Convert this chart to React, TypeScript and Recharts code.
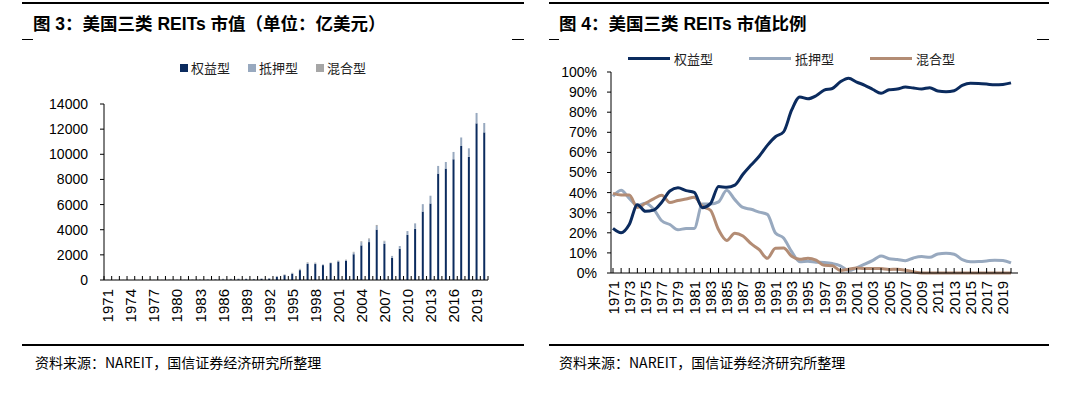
import { BarChart, Bar, LineChart, Line, XAxis, YAxis } from 'recharts';

const years = [
  1971, 1972, 1973, 1974, 1975, 1976, 1977, 1978, 1979, 1980,
  1981, 1982, 1983, 1984, 1985, 1986, 1987, 1988, 1989, 1990,
  1991, 1992, 1993, 1994, 1995, 1996, 1997, 1998, 1999, 2000,
  2001, 2002, 2003, 2004, 2005, 2006, 2007, 2008, 2009, 2010,
  2011, 2012, 2013, 2014, 2015, 2016, 2017, 2018, 2019, 2020,
];

// 市值, 亿美元
const equityCap = [
  3, 4, 3, 2, 3, 4, 5, 6, 7, 9,
  10, 11, 15, 22, 33, 43, 48, 61, 68, 56,
  88, 112, 261, 388, 499, 783, 1278, 1269, 1182, 1344,
  1471, 1513, 2048, 2753, 3015, 4007, 2887, 1762, 2484, 3589,
  4075, 5444, 6083, 8464, 8865, 9602, 10660, 9803, 12459, 11742,
];
const mortgageCap = [
  6, 8, 5, 2, 3, 4, 4, 3, 4, 5,
  5, 11, 15, 18, 32, 36, 32, 36, 35, 25,
  26, 28, 34, 25, 34, 48, 74, 65, 44, 16,
  40, 71, 142, 260, 234, 292, 191, 143, 221, 304,
  430, 590, 621, 610, 524, 585, 678, 673, 829, 747,
];
const hybridCap = [
  6, 7, 5, 2, 3, 5, 6, 5, 6, 8,
  9, 11, 13, 11, 12, 20, 18, 17, 14, 6,
  16, 20, 27, 30, 42, 57, 53, 49, 16, 27,
  38, 35, 52, 66, 58, 81, 43, 11, 0, 0,
  0, 0, 0, 0, 0, 0, 0, 0, 0, 0,
];

// 市值比例, %
const equityShare = [
  22.2, 20.0, 24.1, 34.0, 30.7, 31.3, 35.2, 40.8, 42.4, 41.0,
  40.1, 32.5, 34.5, 43.0, 42.6, 43.7, 49.1, 53.7, 58.1, 63.5,
  67.8, 70.2, 81.1, 87.6, 86.7, 88.2, 91.0, 91.8, 95.1, 96.9,
  95.0, 93.4, 91.3, 89.4, 91.2, 91.5, 92.5, 92.0, 91.6, 92.2,
  90.5, 90.2, 90.7, 93.3, 94.4, 94.3, 94.0, 93.6, 93.8, 94.6,
];
const mortgageShare = [
  38.2, 41.2, 37.1, 33.6, 34.7, 31.8, 26.0, 24.1, 21.5, 22.2,
  22.2, 34.3, 34.3, 35.4, 41.2, 36.5, 32.6, 31.7, 30.3, 29.2,
  19.9, 17.4, 10.6, 5.6, 5.9, 5.4, 5.2, 4.7, 3.6, 1.2,
  2.6, 4.4, 6.3, 8.4, 7.1, 6.7, 6.1, 7.5, 8.2, 7.8,
  9.5, 9.8, 9.3, 6.7, 5.6, 5.7, 6.0, 6.4, 6.2, 5.0,
];
const hybridShare = [
  39.6, 38.8, 38.8, 32.6, 34.7, 36.9, 38.7, 35.1, 36.1, 36.8,
  37.7, 33.2, 31.2, 21.5, 16.2, 19.8, 18.4, 14.6, 11.6, 7.3,
  12.3, 12.4, 8.3, 6.8, 7.4, 6.4, 3.8, 3.6, 1.3, 1.9,
  2.5, 2.2, 2.3, 2.2, 1.8, 1.9, 1.4, 0.6, 0, 0,
  0, 0, 0, 0, 0, 0, 0, 0, 0, 0,
];

const seriesNames = ['权益型', '抵押型', '混合型'];
const barColors = ['#0b2b5e', '#98a9bf', '#a6a6a6'];
const lineColors = ['#0b2b5e', '#98a9bf', '#b38c74'];
const capTicks = [0, 2000, 4000, 6000, 8000, 10000, 12000, 14000];
const shareTicks = [0, 10, 20, 30, 40, 50, 60, 70, 80, 90, 100];

const capData = years.map((y, i) => ({
  year: y,
  equity: equityCap[i],
  mortgage: mortgageCap[i],
  hybrid: hybridCap[i],
}));
const shareData = years.map((y, i) => ({
  year: y,
  equity: equityShare[i],
  mortgage: mortgageShare[i],
  hybrid: hybridShare[i],
}));

const numFont = '"Liberation Sans", Arial, "Noto Sans CJK SC", sans-serif';
const cjkFont = '"Noto Sans CJK SC", sans-serif';

const BarYearTick = (props: any) => {
  const { x, y, payload, index } = props;
  const half = payload?.offset || 3.84;
  const last = index === years.length - 1;
  const ty = y + 9;
  return (
    <g>
      <line x1={x - half} x2={x - half} y1={y} y2={y - 4} stroke="#000" />
      {last && <line x1={x + half} x2={x + half} y1={y} y2={y - 4} stroke="#000" />}
      {index % 3 === 0 && (
        <text
          x={x}
          y={ty}
          transform={`rotate(-90 ${x} ${ty})`}
          textAnchor="end"
          dominantBaseline="central"
          fontSize={15}
          fontFamily={numFont}
          fill="#000"
        >
          {payload.value}
        </text>
      )}
    </g>
  );
};

const LineYearTick = (props: any) => {
  const { x, y, payload, index } = props;
  const ty = y + 8;
  return (
    <g>
      <line x1={x} x2={x} y1={y} y2={y - 5} stroke="#000" />
      {index % 2 === 0 && (
        <text
          x={x}
          y={ty}
          transform={`rotate(-90 ${x} ${ty})`}
          textAnchor="end"
          dominantBaseline="central"
          fontSize={15}
          fontFamily={numFont}
          fill="#000"
        >
          {payload.value}
        </text>
      )}
    </g>
  );
};

const Rule = ({ left, top, width, h = 1.5 }: any) => (
  <div style={{ position: 'absolute', left, top, width, height: h, background: '#000' }} />
);

const Title = ({ left, text }: any) => (
  <div
    style={{
      position: 'absolute',
      left,
      top: 10,
      fontSize: 17.5,
      fontWeight: 'bold',
      fontFamily: numFont,
      whiteSpace: 'nowrap',
      color: '#000',
    }}
  >
    {text}
  </div>
);

const Source = ({ left }: any) => (
  <div
    style={{
      position: 'absolute',
      left,
      top: 352,
      fontSize: 14,
      fontFamily: cjkFont,
      whiteSpace: 'nowrap',
      color: '#000',
    }}
  >
    资料来源：NAREIT，国信证券经济研究所整理
  </div>
);

export default function App() {
  return (
    <div style={{ position: 'absolute', left: 0, top: 0, width: 1092, height: 395, background: '#fff', overflow: 'hidden' }}>
      {/* 左图 */}
      <Rule left={22} top={2} width={502} />
      <Title left={33} text="图 3：美国三类 REITs 市值（单位：亿美元）" />
      <Rule left={22} top={39} width={11} h={1} />
      <Rule left={512} top={39} width={12} h={1} />
      <div
        style={{
          position: 'absolute',
          left: 180,
          top: 58,
          display: 'flex',
          gap: 18,
          fontSize: 13,
          fontFamily: cjkFont,
          color: '#222',
          alignItems: 'center',
        }}
      >
        {seriesNames.map((n, i) => (
          <div key={n} style={{ display: 'flex', alignItems: 'center', gap: 3 }}>
            <span style={{ width: 8, height: 8, background: barColors[i], display: 'inline-block' }} />
            <span>{n}</span>
          </div>
        ))}
      </div>
      <div style={{ position: 'absolute', left: 0, top: 0 }}>
        <BarChart
          width={546}
          height={340}
          data={capData}
          margin={{ top: 104, right: 58, left: 0, bottom: 10 }}
          barCategoryGap="38%"
        >
          <YAxis
            width={104}
            domain={[0, 14000]}
            ticks={capTicks}
            interval={0}
            axisLine={{ stroke: '#000' }}
            tickLine={{ stroke: '#000' }}
            tickSize={4}
            tickMargin={12}
            tick={{ fontSize: 14, fill: '#000', fontFamily: numFont }}
          />
          <XAxis
            dataKey="year"
            height={50}
            interval={0}
            axisLine={{ stroke: '#000' }}
            tickLine={false}
            tickSize={0}
            tickMargin={0}
            tick={<BarYearTick />}
          />
          <Bar dataKey="equity" stackId="a" fill={barColors[0]} isAnimationActive={false} />
          <Bar dataKey="mortgage" stackId="a" fill={barColors[1]} isAnimationActive={false} />
          <Bar dataKey="hybrid" stackId="a" fill={barColors[2]} isAnimationActive={false} />
        </BarChart>
      </div>
      <Rule left={22} top={344} width={502} />
      <Source left={35} />

      {/* 右图 */}
      <Rule left={549} top={2} width={500} />
      <Title left={559} text="图 4：美国三类 REITs 市值比例" />
      <Rule left={549} top={39} width={10} h={1} />
      <Rule left={1037} top={39} width={12} h={1} />
      <div
        style={{
          position: 'absolute',
          left: 628,
          top: 49,
          display: 'flex',
          gap: 36,
          fontSize: 13,
          fontFamily: cjkFont,
          color: '#222',
          alignItems: 'center',
        }}
      >
        {seriesNames.map((n, i) => (
          <div key={n} style={{ display: 'flex', alignItems: 'center', gap: 4 }}>
            <span style={{ width: 42, height: 3, background: lineColors[i], display: 'inline-block' }} />
            <span>{n}</span>
          </div>
        ))}
      </div>
      <div style={{ position: 'absolute', left: 546, top: 0 }}>
        <LineChart
          width={546}
          height={340}
          data={shareData}
          margin={{ top: 72, right: 74, left: 0, bottom: 17 }}
        >
          <YAxis
            width={65}
            domain={[0, 100]}
            ticks={shareTicks}
            interval={0}
            tickFormatter={(v) => `${v}%`}
            axisLine={{ stroke: '#000' }}
            tickLine={{ stroke: '#000' }}
            tickSize={4}
            tickMargin={10}
            tick={{ fontSize: 14, fill: '#000', fontFamily: numFont }}
          />
          <XAxis
            dataKey="year"
            height={50}
            interval={0}
            padding={{ left: 2, right: 7 }}
            axisLine={{ stroke: '#000' }}
            tickLine={false}
            tickSize={0}
            tickMargin={0}
            tick={<LineYearTick />}
          />
          <Line type="monotone" dataKey="mortgage" stroke={lineColors[1]} strokeWidth={3} dot={false} isAnimationActive={false} />
          <Line type="monotone" dataKey="hybrid" stroke={lineColors[2]} strokeWidth={3} dot={false} isAnimationActive={false} />
          <Line type="monotone" dataKey="equity" stroke={lineColors[0]} strokeWidth={3} dot={false} isAnimationActive={false} />
        </LineChart>
      </div>
      <Rule left={549} top={344} width={500} />
      <Source left={559} />
    </div>
  );
}
